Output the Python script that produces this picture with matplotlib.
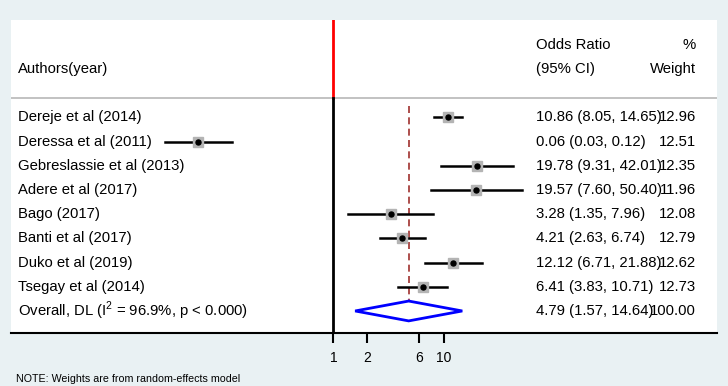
import numpy as np
import matplotlib.pyplot as plt
from matplotlib.transforms import blended_transform_factory

plt.rcParams['font.family'] = ['Liberation Sans', 'DejaVu Sans']
plt.rcParams['mathtext.fontset'] = 'custom'
plt.rcParams['mathtext.rm'] = 'Liberation Sans'

# study data
authors = ["Dereje et al (2014)", "Deressa et al (2011)", "Gebreslassie et al (2013)",
           "Adere et al (2017)", "Bago (2017)", "Banti et al (2017)",
           "Duko et al (2019)", "Tsegay et al (2014)"]
odds = [10.86, 0.06, 19.78, 19.57, 3.28, 4.21, 12.12, 6.41]
ci_lo = [8.05, 0.03, 9.31, 7.60, 1.35, 2.63, 6.71, 3.83]
ci_hi = [14.65, 0.12, 42.01, 50.40, 7.96, 6.74, 21.88, 10.71]
weights = [12.96, 12.51, 12.35, 11.96, 12.08, 12.79, 12.62, 12.73]

overall_label = r"Overall, DL (I$^{2}$ = 96.9%, p < 0.000)"
overall = [4.79, 1.57, 14.64]
overall_weight = 100.00

xticks = [1, 2, 6, 10]

bg = '#e9f1f3'
fig = plt.figure(figsize=(7.28, 3.86), dpi=100, facecolor=bg)
W, H = 728, 386
ax = fig.add_axes([11 / W, (H - 333) / H, 706 / W, 313 / H])
ax.set_facecolor('white')

ax.set_xscale('log')
ax.set_xlim(10 ** ((11 - 333.5) / 110.5), 10 ** ((717 - 333.5) / 110.5))
ax.set_ylim(8.91, -4.02)

header_y = -0.78
n = len(authors)
rows = np.arange(n)

# separators and null line
ax.axhline(header_y, color='#b8b8b8', lw=1.2, zorder=1)
ax.plot([1, 1], [-4.02, header_y], color='#ff0000', lw=2, zorder=2)
ax.plot([1, 1], [header_y, 8.91], color='black', lw=2, zorder=2)

# pooled estimate line
ax.plot([overall[0], overall[0]], [-0.47, n + 0.41], color='#a0302d', lw=1.2,
        ls=(0, (4.2, 2.6)), zorder=2)

# studies
for i in range(n):
    ax.plot([ci_lo[i], ci_hi[i]], [i, i], color='black', lw=1.8, zorder=3)
    ax.plot(odds[i], i, marker='s', ms=7.5 * np.sqrt(weights[i] / 12.5),
            color='#b4b4b4', mec='#b4b4b4', zorder=3)
    ax.plot(odds[i], i, marker='o', ms=3.6, color='black', zorder=4)

# diamond
dx = [overall[1], overall[0], overall[2], overall[0], overall[1]]
dy = [n, n - 0.41, n, n + 0.41, n]
ax.fill(dx, dy, facecolor='white', edgecolor='#0000ff', lw=2, zorder=3)

# axis styling
for s in ['top', 'right', 'left']:
    ax.spines[s].set_visible(False)
ax.spines['bottom'].set_linewidth(1.5)
ax.set_xticks(xticks)
ax.set_xticklabels([str(t) for t in xticks], fontsize=10)
ax.minorticks_off()
ax.tick_params(axis='x', length=7.2, width=1.5, pad=6)
ax.set_yticks([])

# text columns
tr = blended_transform_factory(fig.transFigure, ax.transData)
fs = 10.7
ax.text(18 / W, -2, "Authors(year)", transform=tr, fontsize=fs, va='center')
ax.text(536 / W, -3, "Odds Ratio", transform=tr, fontsize=fs, va='center')
ax.text(536 / W, -2, "(95% CI)", transform=tr, fontsize=fs, va='center')
ax.text(696 / W, -3, "%", transform=tr, fontsize=fs, va='center', ha='right')
ax.text(696 / W, -2, "Weight", transform=tr, fontsize=fs, va='center', ha='right')

for i in range(n):
    ax.text(18 / W, i, authors[i], transform=tr, fontsize=fs, va='center')
    ax.text(536 / W, i, f"{odds[i]:.2f} ({ci_lo[i]:.2f}, {ci_hi[i]:.2f})",
            transform=tr, fontsize=fs, va='center')
    ax.text(696 / W, i, f"{weights[i]:.2f}", transform=tr, fontsize=fs,
            va='center', ha='right')

ax.text(18 / W, n, overall_label, transform=tr, fontsize=fs, va='center')
ax.text(536 / W, n, f"{overall[0]:.2f} ({overall[1]:.2f}, {overall[2]:.2f})",
        transform=tr, fontsize=fs, va='center')
ax.text(696 / W, n, f"{overall_weight:.2f}", transform=tr, fontsize=fs,
        va='center', ha='right')

fig.text(16 / W, (H - 379) / H, "NOTE: Weights are from random-effects model",
         fontsize=7.7, va='center')

fig.savefig('out.png', dpi=100, facecolor=bg)
